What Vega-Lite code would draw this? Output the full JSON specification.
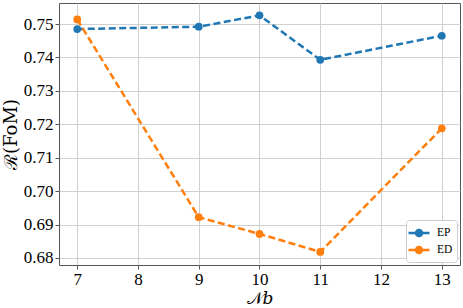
{
  "$schema": "https://vega.github.io/schema/vega-lite/v6.json",
  "width": 401,
  "height": 262,
  "autosize": "none",
  "padding": {"left": 59, "top": 3, "right": 3, "bottom": 43},
  "background": "white",
  "config": {
    "view": {"stroke": "#555", "strokeWidth": 1},
    "axis": {
      "gridColor": "#d0d0d0",
      "gridWidth": 1,
      "tickColor": "#555",
      "domain": false,
      "tickSize": 4
    }
  },
  "data": {
    "values": [
      {"n": 7, "v": 0.7485, "s": "EP"},
      {"n": 9, "v": 0.7492, "s": "EP"},
      {"n": 10, "v": 0.7526, "s": "EP"},
      {"n": 11, "v": 0.7393, "s": "EP"},
      {"n": 13, "v": 0.7465, "s": "EP"},
      {"n": 7, "v": 0.7514, "s": "ED"},
      {"n": 9, "v": 0.6922, "s": "ED"},
      {"n": 10, "v": 0.6872, "s": "ED"},
      {"n": 11, "v": 0.6818, "s": "ED"},
      {"n": 13, "v": 0.7188, "s": "ED"}
    ]
  },
  "encoding": {
    "x": {
      "field": "n", "type": "quantitative",
      "scale": {"domain": [6.7, 13.3], "nice": false, "zero": false},
      "axis": {
        "values": [7, 8, 9, 10, 11, 12, 13], "title": "𝒩𝑏",
        "labelFont": "Liberation Serif", "labelFontSize": 17, "labelColor": "black",
        "titleFont": "DejaVu Serif", "titleFontSize": 17, "titleFontWeight": "normal", "titleColor": "black",
        "titlePadding": 3, "labelPadding": 2
      }
    },
    "y": {
      "field": "v", "type": "quantitative",
      "scale": {"domain": [0.6779, 0.7563], "nice": false, "zero": false},
      "axis": {
        "values": [0.68, 0.69, 0.70, 0.71, 0.72, 0.73, 0.74, 0.75], "format": ".2f", "title": "ℛ(FoM)",
        "labelFont": "Liberation Serif", "labelFontSize": 17, "labelColor": "black",
        "titleFont": "DejaVu Serif", "titleFontSize": 18, "titleFontWeight": "normal", "titleColor": "black",
        "titlePadding": 3, "labelPadding": 2
      }
    },
    "color": {
      "field": "s", "type": "nominal",
      "scale": {"domain": ["EP", "ED"], "range": ["#1f77b4", "#ff7f0e"]},
      "legend": {
        "title": null,
        "orient": "bottom-right",
        "offset": 3,
        "labelFont": "Liberation Serif",
        "labelFontSize": 11.5,
        "labelColor": "black",
        "labelOffset": 9,
        "strokeColor": "#ccc",
        "fillColor": "white",
        "padding": 4,
        "rowPadding": 0,
        "cornerRadius": 3,
        "symbolType": "M -1.4 0 L 1.4 0 M 0.4 0 A 0.4 0.4 0 1 1 -0.4 0 A 0.4 0.4 0 1 1 0.4 0",
        "symbolSize": 225,
        "symbolStrokeWidth": 2.5
      }
    }
  },
  "layer": [
    {"mark": {"type": "line", "strokeWidth": 2.5, "strokeDash": [7, 3.5]}},
    {"mark": {"type": "point", "filled": true, "size": 60, "opacity": 1}}
  ]
}
